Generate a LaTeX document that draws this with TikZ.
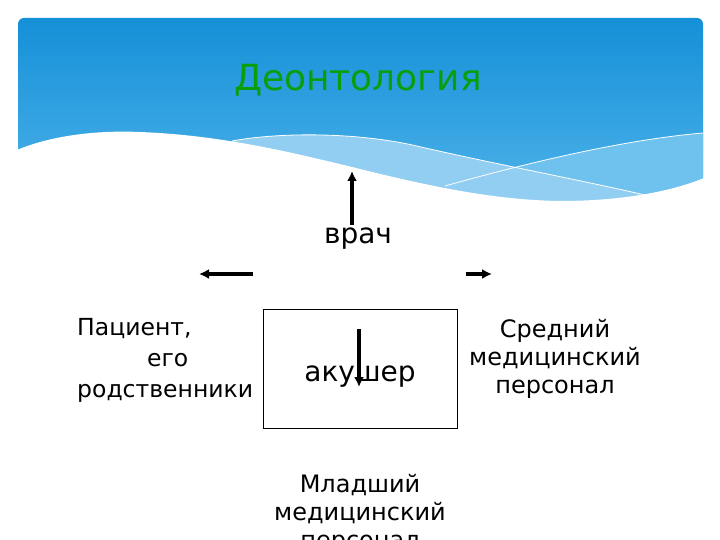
\documentclass[tikz,border=0pt]{standalone}
\usepackage{fontspec}
\setmainfont{DejaVu Sans}
\usepackage{xcolor}
\definecolor{skytop}{HTML}{1590D8}
\definecolor{skybot}{HTML}{50B4EA}
\definecolor{skymid}{HTML}{6FC1EE}
\definecolor{skylight}{HTML}{92CEF2}
\definecolor{titlegreen}{HTML}{0A9E0A}
\usetikzlibrary{arrows.meta,positioning}
\tikzset{
  headline/.style = {font=\fontsize{36}{40}\selectfont, text=titlegreen,
                     inner sep=0pt},
  role/.style     = {font=\fontsize{28}{32}\selectfont, inner sep=0pt},
  group/.style    = {font=\fontsize{24}{28}\selectfont, align=center,
                     inner sep=0pt},
  frame/.style    = {draw, line width=0.8pt, minimum width=194pt,
                     minimum height=119pt},
  arr/.style      = {-{Latex[length=10pt,width=10pt]}, line width=3.5pt},
  wave/.style     = {draw=white, line width=0.8pt}
}

\begin{document}
\begin{tikzpicture}[x=1pt, y=-1pt]
  \useasboundingbox (0,0) rectangle (720,540);
  % banner
  \shade[top color=skytop, bottom color=skybot, rounded corners=6pt]
    (18,212) -- (18,18) -- (703,18) -- (703,212) -- cycle;
  \fill[skymid] (445,186) .. controls (520,165) and (620,140) .. (703,133)
    -- (703,214) -- (445,214) -- cycle;
  \fill[skylight] (232,141) .. controls (280,132) and (360,132) .. (421,147)
    .. controls (500,165) and (580,180) .. (645,195) -- (645,216) -- (232,216) -- cycle;
  \fill[white] (17,150) .. controls (50,136) and (95,130) .. (140,132)
    .. controls (220,135) and (290,152) .. (352,167)
    .. controls (420,184) and (490,200) .. (560,201)
    .. controls (620,201) and (670,192) .. (704,178) -- (704,218) -- (17,218) -- cycle;
  \draw[wave] (232,141) .. controls (280,132) and (360,132) .. (421,147)
    .. controls (500,165) and (580,180) .. (645,195);
  \draw[wave] (445,186) .. controls (520,165) and (620,140) .. (703,133);

  \node[headline] (deont) at (358,80) {Деонтология};

  \node[role] (vrach) at (358,239) {врач};
  \node[frame] (box) at (360,368.5) {};
  \node[role] (akusher) at (360,377) {акушер};
  \node[group, align=left, anchor=north west, font=\fontsize{23.5}{31}\selectfont]
    (patient) at (77,318) {Пациент,\\\hspace*{70pt}его\\родственники};
  \node[group, anchor=north] (sredn) at (555,319) {Средний\\медицинский\\персонал};
  \node[group, anchor=north] (mlad) at (360,474) {Младший\\медицинский\\персонал};

  % arrows
  \coordinate (up0) at (352,225); \coordinate (up1) at (352,171);
  \coordinate (lf0) at (253,274); \coordinate (lf1) at (199,274);
  \coordinate (rt0) at (466,274); \coordinate (rt1) at (492,274);
  \coordinate (dn0) at (359,329); \coordinate (dn1) at (359,387);
  \foreach \a/\b in {up0/up1,lf0/lf1,rt0/rt1,dn0/dn1}
    \draw[arr] (\a) -- (\b);
\end{tikzpicture}
\end{document}
